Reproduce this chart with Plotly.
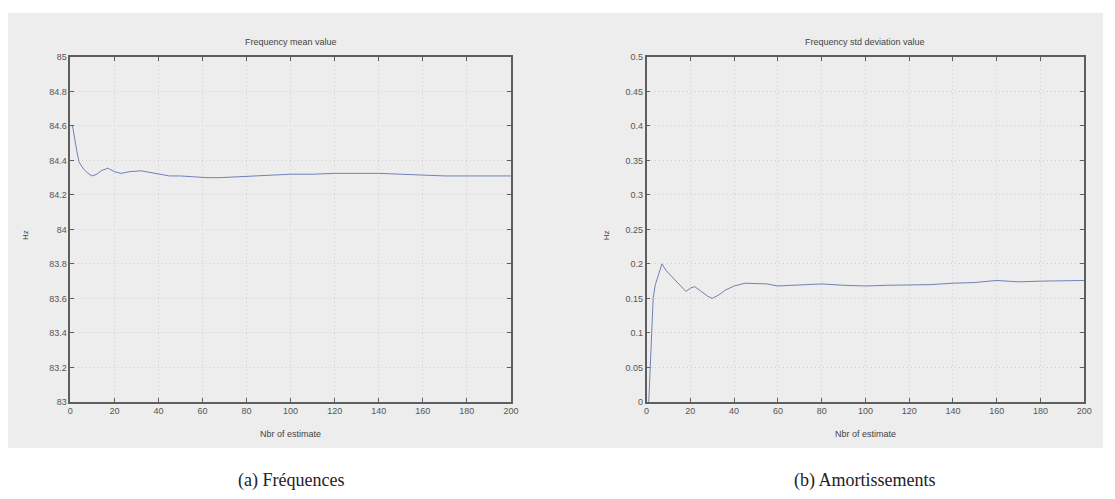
import plotly.graph_objects as go

W, H = 1115, 499

# ---- data ----
mean_x = [1, 2, 3, 4, 5, 6, 8, 10, 12, 14, 17, 20, 23, 27, 32, 36, 40, 45, 50, 55,
          62, 68, 75, 80, 90, 100, 110, 120, 130, 140, 150, 160, 170, 180, 190, 200]
mean_y = [84.60, 84.52, 84.45, 84.39, 84.37, 84.35, 84.325, 84.31, 84.32, 84.34, 84.355,
          84.335, 84.325, 84.335, 84.34, 84.33, 84.32, 84.31, 84.31, 84.305, 84.30,
          84.30, 84.305, 84.31, 84.315, 84.32, 84.32, 84.325, 84.325, 84.325, 84.32,
          84.315, 84.31, 84.31, 84.31, 84.31]

std_x = [1, 2, 3, 4, 5, 7, 9, 12, 15, 18, 20, 22, 25, 28, 30, 33, 36, 40, 45, 50, 55,
         60, 70, 80, 90, 100, 110, 120, 130, 140, 150, 160, 170, 180, 190, 200]
std_y = [0.0, 0.09, 0.15, 0.17, 0.18, 0.2, 0.19, 0.18, 0.17, 0.16, 0.165, 0.167, 0.16,
         0.153, 0.15, 0.155, 0.162, 0.168, 0.172, 0.172, 0.171, 0.168, 0.17, 0.171,
         0.169, 0.168, 0.169, 0.169, 0.17, 0.172, 0.173, 0.176, 0.174, 0.175, 0.175, 0.176]

x_ticks = [0, 20, 40, 60, 80, 100, 120, 140, 160, 180, 200]
mean_ticks = [83, 83.2, 83.4, 83.6, 83.8, 84, 84.2, 84.4, 84.6, 84.8, 85]
mean_tick_text = ["83", "83.2", "83.4", "83.6", "83.8", "84", "84.2", "84.4", "84.6", "84.8", "85"]
std_ticks = [0, 0.05, 0.1, 0.15, 0.2, 0.25, 0.3, 0.35, 0.4, 0.45, 0.5]
std_tick_text = ["0", "0.05", "0.1", "0.15", "0.2", "0.25", "0.3", "0.35", "0.4", "0.45", "0.5"]

titles = ["Frequency mean value", "Frequency std deviation value"]
x_label = "Nbr of estimate"
y_label = "Hz"
captions = ["(a) Fréquences", "(b) Amortissements"]

# ---- layout in pixels ----
def px_x(p):
    return p / W

def px_y(p):
    return 1 - p / H

left_dom = [px_x(68), px_x(513)]
right_dom = [px_x(650), px_x(1092)]
y_dom = [px_y(405), px_y(53)]

line_color = "#7080b8"
axis_color = "#5e5e5e"
grid_color = "#cfcfcf"
tick_font = dict(family="Liberation Sans, Arial, sans-serif", size=9, color="#555555")

fig = go.Figure()
fig.add_trace(go.Scatter(x=mean_x, y=mean_y, mode="lines",
                         line=dict(color=line_color, width=1), xaxis="x", yaxis="y",
                         showlegend=False, hoverinfo="skip"))
fig.add_trace(go.Scatter(x=std_x, y=std_y, mode="lines",
                         line=dict(color=line_color, width=1), xaxis="x2", yaxis="y2",
                         showlegend=False, hoverinfo="skip"))

def xaxis(dom, anchor):
    return dict(domain=dom, anchor=anchor, range=[0, 200], tickvals=x_ticks,
                ticktext=[str(v) for v in x_ticks], showline=True, linecolor=axis_color,
                linewidth=1.5, mirror="ticks", ticks="inside", ticklen=4,
                tickcolor=axis_color, showgrid=True, gridcolor=grid_color,
                griddash="1px,3px", gridwidth=1, zeroline=False, tickfont=tick_font,
                fixedrange=True)

def yaxis(dom, anchor, rng, vals, text):
    return dict(domain=dom, anchor=anchor, range=rng, tickvals=vals, ticktext=text,
                showline=True, linecolor=axis_color, linewidth=1.5, mirror="ticks",
                ticks="inside", ticklen=4, tickcolor=axis_color, showgrid=True,
                gridcolor=grid_color, griddash="1px,3px", gridwidth=1, zeroline=False,
                tickfont=tick_font, fixedrange=True)

shapes = [
    dict(type="rect", xref="paper", yref="paper", x0=px_x(5), x1=px_x(1111),
         y0=px_y(452), y1=px_y(8), fillcolor="#ededed", line=dict(width=0), layer="below"),
]

annotations = []
for dom, t, cap in [(left_dom, titles[0], captions[0]), (right_dom, titles[1], captions[1])]:
    cx = (dom[0] + dom[1]) / 2
    annotations.append(dict(x=cx, y=px_y(38), xref="paper", yref="paper", text=t,
                            showarrow=False, xanchor="center", yanchor="middle",
                            font=dict(family="Liberation Sans, Arial, sans-serif", size=9,
                                      color="#444444")))
    annotations.append(dict(x=cx, y=px_y(438), xref="paper", yref="paper", text=x_label,
                            showarrow=False, xanchor="center", yanchor="middle",
                            font=dict(family="Liberation Sans, Arial, sans-serif", size=9,
                                      color="#444444")))
    annotations.append(dict(x=cx, y=px_y(485), xref="paper", yref="paper", text=cap,
                            showarrow=False, xanchor="center", yanchor="middle",
                            font=dict(family="Liberation Serif, Times New Roman, serif",
                                      size=18, color="#222222")))
for xp in [23, 609]:
    annotations.append(dict(x=px_x(xp), y=px_y(235), xref="paper", yref="paper",
                            text=y_label, showarrow=False, textangle=-90,
                            xanchor="center", yanchor="middle",
                            font=dict(family="Liberation Sans, Arial, sans-serif", size=8,
                                      color="#444444")))

fig.update_layout(
    width=W, height=H, margin=dict(l=0, r=0, t=0, b=0),
    paper_bgcolor="white", plot_bgcolor="#f7f7f7",
    xaxis=xaxis(left_dom, "y"),
    yaxis=yaxis(y_dom, "x", [83, 85], mean_ticks, mean_tick_text),
    xaxis2=xaxis(right_dom, "y2"),
    yaxis2=yaxis(y_dom, "x2", [0, 0.5], std_ticks, std_tick_text),
    shapes=shapes, annotations=annotations,
)

fig.write_html("out.html")
